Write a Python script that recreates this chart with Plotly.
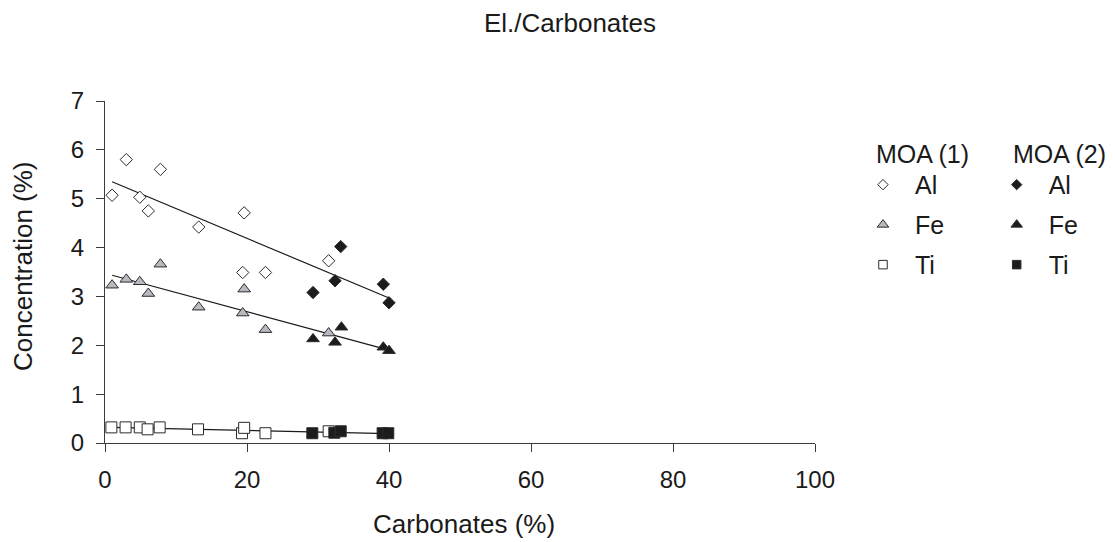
import numpy as np
import plotly.graph_objects as go

# Carbonate content (%) and element concentrations (%) for the two sample sets
al1_x = [1.0, 3.0, 4.9, 7.8, 6.1, 13.2, 19.6, 19.4, 22.6, 31.5]
al1_y = [5.07, 5.80, 5.03, 5.60, 4.75, 4.42, 4.71, 3.49, 3.49, 3.73]
al2_x = [29.3, 32.4, 33.2, 39.2, 40.0]
al2_y = [3.08, 3.32, 4.02, 3.25, 2.87]

fe1_x = [1.0, 3.0, 4.9, 6.1, 7.8, 13.2, 19.4, 19.6, 22.6, 31.5]
fe1_y = [3.23, 3.35, 3.30, 3.06, 3.66, 2.78, 2.66, 3.15, 2.32, 2.25]
fe2_x = [29.3, 32.4, 33.3, 39.2, 40.0]
fe2_y = [2.13, 2.06, 2.37, 1.96, 1.89]

ti1_x = [0.9, 2.9, 4.9, 6.0, 7.7, 13.1, 19.3, 19.6, 22.6, 31.5]
ti1_y = [0.32, 0.32, 0.32, 0.28, 0.32, 0.28, 0.20, 0.31, 0.20, 0.24]
ti2_x = [29.2, 32.3, 33.2, 39.1, 39.9]
ti2_y = [0.20, 0.21, 0.24, 0.20, 0.20]

x_ticks = [0, 20, 40, 60, 80, 100]
y_ticks = [0, 1, 2, 3, 4, 5, 6, 7]
group_titles = ["MOA (1)", "MOA (2)"]
x_title = "Carbonates (%)"
y_title = "Concentration (%)"

EDGE = "#2b2b2b"
GRAY = "#b7bac0"
BLACK = "#1c1c1c"
TEXT = "#1a1a1a"
FONT = "Liberation Sans, Arial, sans-serif"

# plot-area geometry in pixels (used to place the text outside it)
L, R, T, B = 105, 815, 100.5, 443.5

fig = go.Figure()


def trend(xa, ya, xb, yb):
    """Least-squares line through both sample sets, spanning their x range."""
    xs = np.array(xa + xb, dtype=float)
    ys = np.array(ya + yb, dtype=float)
    k, b = np.polyfit(xs, ys, 1)
    xl = np.array([xs.min(), xs.max()])
    return xl, k * xl + b


for xa, ya, xb, yb in [(al1_x, al1_y, al2_x, al2_y),
                       (fe1_x, fe1_y, fe2_x, fe2_y),
                       (ti1_x, ti1_y, ti2_x, ti2_y)]:
    lx, ly = trend(xa, ya, xb, yb)
    fig.add_trace(go.Scatter(x=lx, y=ly, mode="lines", showlegend=False,
                             line=dict(color="#1a1a1a", width=1.2),
                             hoverinfo="skip"))

series = [
    (al1_x, al1_y, "diamond", "white", 9.5),
    (fe1_x, fe1_y, "triangle-up", GRAY, 11),
    (ti1_x, ti1_y, "square", "white", 11),
    (al2_x, al2_y, "diamond", BLACK, 9.5),
    (fe2_x, fe2_y, "triangle-up", BLACK, 11),
    (ti2_x, ti2_y, "square", BLACK, 11),
]
for xs, ys, sym, fill, size in series:
    fig.add_trace(go.Scatter(
        x=xs, y=ys, mode="markers", showlegend=False,
        marker=dict(symbol=sym, size=size, color=fill,
                    line=dict(color=EDGE, width=1))))

# Legend entries (two columns: one legend per sample set)
legend_items = [
    ("Al", "diamond", "white", 8, "legend"),
    ("Fe", "triangle-up", GRAY, 10, "legend"),
    ("Ti", "square", "white", 8.5, "legend"),
    ("Al", "diamond", BLACK, 8, "legend2"),
    ("Fe", "triangle-up", BLACK, 10, "legend2"),
    ("Ti", "square", BLACK, 8.5, "legend2"),
]
for i, (name, sym, fill, size, lg) in enumerate(legend_items):
    fig.add_trace(go.Scatter(
        x=[None], y=[None], mode="markers", name=name,
        legend=lg, legendgroup=f"g{i}",
        marker=dict(symbol=sym, size=size, color=fill,
                    line=dict(color=EDGE, width=1))))

axis_common = dict(
    showgrid=False, zeroline=False, showline=True, automargin=False,
    linecolor="#3a3a3a", linewidth=1.3,
    ticks="outside", ticklen=8, tickcolor="#3a3a3a", tickwidth=1.3,
    tickfont=dict(family=FONT, size=24, color=TEXT),
    ticklabelstandoff=7,
)

fig.update_xaxes(range=[0, 100], tickvals=x_ticks, **axis_common)
fig.update_yaxes(range=[0, 7], tickvals=y_ticks, **axis_common)

legend_common = dict(
    font=dict(family=FONT, size=25, color=TEXT),
    bgcolor="rgba(0,0,0,0)", tracegroupgap=4.5,
    xanchor="left", yanchor="top", itemwidth=54,
)

fig.update_layout(
    width=1115, height=542,
    margin=dict(l=L, r=1115 - R, t=T, b=542 - B),
    paper_bgcolor="white", plot_bgcolor="white",
    title=dict(text="El./Carbonates", x=570 / 1115, xanchor="center",
               xref="container",
               y=1 - 23 / 542, yref="container", yanchor="middle",
               font=dict(family=FONT, size=26, color=TEXT)),
    legend=dict(x=1.0507, y=0.822, **legend_common),
    legend2=dict(x=1.239, y=0.822, **legend_common),
)


def px_x(p):
    return (p - L) / (R - L)


def px_y(p):
    return (B - p) / (B - T)


# Axis titles
fig.add_annotation(text=x_title, xref="paper", yref="paper",
                   x=px_x(463.5), y=px_y(525), xanchor="center", yanchor="middle",
                   showarrow=False, font=dict(family=FONT, size=26, color=TEXT))
fig.add_annotation(text=y_title, xref="paper", yref="paper", textangle=-90,
                   x=px_x(23), y=px_y(266), xanchor="center", yanchor="middle",
                   showarrow=False, font=dict(family=FONT, size=26, color=TEXT))

# Column headings above each legend column
for gx, title in zip([874, 1011], group_titles):
    fig.add_annotation(text=title, xref="paper", yref="paper",
                       x=px_x(gx), y=px_y(154),
                       xanchor="left", yanchor="middle", showarrow=False,
                       font=dict(family=FONT, size=25, color=TEXT))

fig.write_html("out.html")
